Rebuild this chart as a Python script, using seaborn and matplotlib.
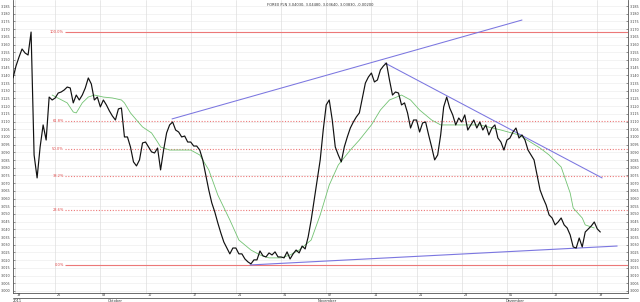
import numpy as np
import pandas as pd
import matplotlib
matplotlib.use("Agg")
import matplotlib.pyplot as plt
import matplotlib.transforms as mtransforms
from matplotlib.lines import Line2D
import seaborn as sns

# ---------------- data ----------------
title = "FOREX PLN 3.04030, 3.04480, 3.03640, 3.03830, -0.00200"

# 8-hour bars (3 bars per trading day)
close = [
    3.1383, 3.1461, 3.1519, 3.1571, 3.1545, 3.1532, 3.1681, 3.0883, 3.0734, 3.0935,
    3.1078, 3.0980, 3.1259, 3.1240, 3.1253, 3.1285, 3.1292, 3.1305, 3.1324, 3.1318,
    3.1221, 3.1272, 3.1240, 3.1272, 3.1318, 3.1383, 3.1344, 3.1240, 3.1259, 3.1195,
    3.1240, 3.1208, 3.1169, 3.1136, 3.1110, 3.1182, 3.1188, 3.1000, 3.1000, 3.0935,
    3.0838, 3.0812, 3.0851, 3.0961, 3.0967, 3.0935, 3.0903, 3.0896, 3.0928, 3.0786,
    3.0915, 3.1026, 3.1078, 3.1097, 3.1045, 3.1032, 3.1000, 3.1006, 3.0967, 3.0967,
    3.0941, 3.0941, 3.0915, 3.0851, 3.0753, 3.0656, 3.0572, 3.0513, 3.0442, 3.0377,
    3.0318, 3.0279, 3.0241, 3.0279, 3.0279, 3.0241, 3.0241, 3.0208, 3.0189, 3.0176,
    3.0202, 3.0202, 3.0260, 3.0228, 3.0221, 3.0247, 3.0234, 3.0254, 3.0221, 3.0221,
    3.0215, 3.0254, 3.0208, 3.0241, 3.0266, 3.0247, 3.0292, 3.0273, 3.0351, 3.0461,
    3.0591, 3.0721, 3.0851, 3.1045, 3.1208, 3.1240, 3.1110, 3.0935, 3.0883, 3.0838,
    3.0935, 3.1000, 3.1058, 3.1097, 3.1130, 3.1156, 3.1253, 3.1350, 3.1389, 3.1415,
    3.1357, 3.1370, 3.1435, 3.1461, 3.1480, 3.1370, 3.1272, 3.1292, 3.1285, 3.1208,
    3.1221, 3.1156, 3.1058, 3.1110, 3.1110, 3.1032, 3.1091, 3.1097, 3.1013, 3.0935,
    3.0851, 3.0883, 3.1013, 3.1195, 3.1259, 3.1188, 3.1143, 3.1078, 3.1123, 3.1097,
    3.1143, 3.1045, 3.1078, 3.1110, 3.1058, 3.1097, 3.1045, 3.1078, 3.1013, 3.1058,
    3.1078, 3.0993, 3.0967, 3.0915, 3.0980, 3.0993, 3.1032, 3.1058, 3.0993, 3.1013,
    3.0980, 3.0915, 3.0883, 3.0851, 3.0753, 3.0656, 3.0604, 3.0559, 3.0494, 3.0474,
    3.0429, 3.0448, 3.0474, 3.0429, 3.0409, 3.0364, 3.0286, 3.0279, 3.0344, 3.0286,
    3.0383, 3.0403, 3.0422, 3.0448, 3.0403, 3.0383,
]
bars = list(range(len(close)))

ma_bars = [13, 18, 20, 21, 23, 25, 27, 30, 33, 36, 37, 39, 41, 43, 46, 48, 49, 52, 55,
           59, 62, 65, 68, 72, 75, 79, 82, 85, 89, 92, 95, 99, 102, 105, 108, 112, 115,
           119, 122, 125, 129, 132, 135, 139, 142, 149, 155, 162, 168, 175, 178, 182,
           185, 186, 189, 190, 193]
ma_vals = [3.1272, 3.1221, 3.1162, 3.1156, 3.1221, 3.1259, 3.1272, 3.1259, 3.1253,
           3.1240, 3.1221, 3.1156, 3.1110, 3.1065, 3.1026, 3.0967, 3.0935, 3.0915,
           3.0915, 3.0915, 3.0883, 3.0786, 3.0623, 3.0461, 3.0331, 3.0266, 3.0234,
           3.0215, 3.0215, 3.0234, 3.0266, 3.0331, 3.0494, 3.0688, 3.0818, 3.0915,
           3.0980, 3.1078, 3.1175, 3.1240, 3.1272, 3.1240, 3.1175, 3.1110, 3.1078,
           3.1078, 3.1078, 3.1045, 3.1013, 3.0928, 3.0883, 3.0805, 3.0636, 3.0539,
           3.0474, 3.0429, 3.0409]

fib_high = 3.1681
fib_low = 3.0169
fib_ratios = [1.0, 0.618, 0.5, 0.382, 0.236, 0.0]
fib_labels = ["100.0%", "61.8%", "50.0%", "38.2%", "23.6%", "0.0%"]

trend_up_x, trend_up_y = [52.8, 169.0], [3.1117, 3.1759]
trend_down_x, trend_down_y = [123.5, 195.6], [3.1480, 3.0734]
support_x, support_y = [78.7, 200.6], [3.0169, 3.0292]

week_ticks = [0.7, 14, 29, 44, 59, 74, 89, 104, 119, 134, 149, 164, 179, 194]
day_labels = ["19", "26", "03", "10", "17", "24", "31", "07", "14", "21", "28", "05", "12", "19"]
month_labels = ["2011", "Oktober", "November", "Dezember"]
month_pos = [0.0, 31.5, 101.0, 163.7]

# ---------------- plot ----------------
sns.set_style("white")
plt.rcParams["font.family"] = ["DejaVu Sans"]

W, H = 640, 302
fig = plt.figure(figsize=(W / 100, H / 100), dpi=100)
left, right, bottom, top = 12.5, 628, 293, 0
ax = fig.add_axes([left / W, (H - bottom) / H, (right - left) / W, (bottom - top) / H])

xmin, xmax = -0.17, 204.2
ymin, ymax = 2.9987, 3.1889
ax.set_xlim(xmin, xmax)
ax.set_ylim(ymin, ymax)

# grids
yt = np.arange(3.000, 3.18501, 0.005)
ax.set_yticks(yt)
ax.set_yticklabels([f"{v:.3f}" for v in yt])
for v in yt:
    ax.axhline(v, color="#efefef", lw=0.5, zorder=0)
for t in week_ticks:
    ax.axvline(t, color="#dedede", lw=0.5, zorder=0)

# fibonacci levels
fib_color = "#ec7878"
for r, lab in zip(fib_ratios, fib_labels):
    lvl = fib_low + r * (fib_high - fib_low)
    ls = "-" if r in (0.0, 1.0) else (0, (1, 1.5))
    ax.hlines(lvl, 17.3, xmax, color=fib_color, lw=0.8, linestyles=ls, zorder=1.5)
    ax.text(16.9, lvl, lab, ha="right", va="center", fontsize=2.6, color="#e04848")

df = pd.DataFrame({"bar": bars, "close": close})
ma_df = pd.DataFrame({"bar": ma_bars, "ma": ma_vals})
sns.lineplot(data=ma_df, x="bar", y="ma", ax=ax, color="#72c272", lw=0.6, zorder=2)
sns.lineplot(data=df, x="bar", y="close", ax=ax, color="#111111", lw=0.85, zorder=3)

tl_color = "#7b76e0"
ax.plot(trend_up_x, trend_up_y, color=tl_color, lw=0.75, zorder=2)
ax.plot(trend_down_x, trend_down_y, color=tl_color, lw=0.75, zorder=2)
ax.plot(support_x, support_y, color=tl_color, lw=0.8, zorder=2)

ax.set_xlabel("")
ax.set_ylabel("")

# axes styling
ax.spines["top"].set_visible(False)
for s in ["left", "right", "bottom"]:
    ax.spines[s].set_color("#555555")
    ax.spines[s].set_linewidth(0.6)

ax.tick_params(axis="y", which="both", left=True, right=True, labelleft=True,
               labelright=True, direction="in", length=1.5, width=0.4,
               labelsize=2.4, pad=1.2, colors="#444444")
ax.set_xticks(week_ticks)
ax.set_xticklabels([""] * len(week_ticks))
ax.tick_params(axis="x", direction="out", length=3.6, width=0.5, colors="#444444")

trans = mtransforms.blended_transform_factory(ax.transData, fig.transFigure)
for t, lab in zip(week_ticks, day_labels):
    ax.text(t + 0.6, 6.5 / H, lab, transform=trans, ha="left", va="center",
            fontsize=2.4, color="#333333")
for p, lab in zip(month_pos, month_labels):
    ax.text(p, 2.8 / H, lab, transform=trans, ha="left", va="top",
            fontsize=2.6, color="#333333", clip_on=False)

fig.add_artist(Line2D([left / W, right / W], [4 / H, 4 / H], color="#555555", lw=0.6))

fig.text(0.5, 1 - 5 / H, title, ha="center", va="center", fontsize=2.6, color="#333333")

fig.savefig("out.png", dpi=100, facecolor="white")
